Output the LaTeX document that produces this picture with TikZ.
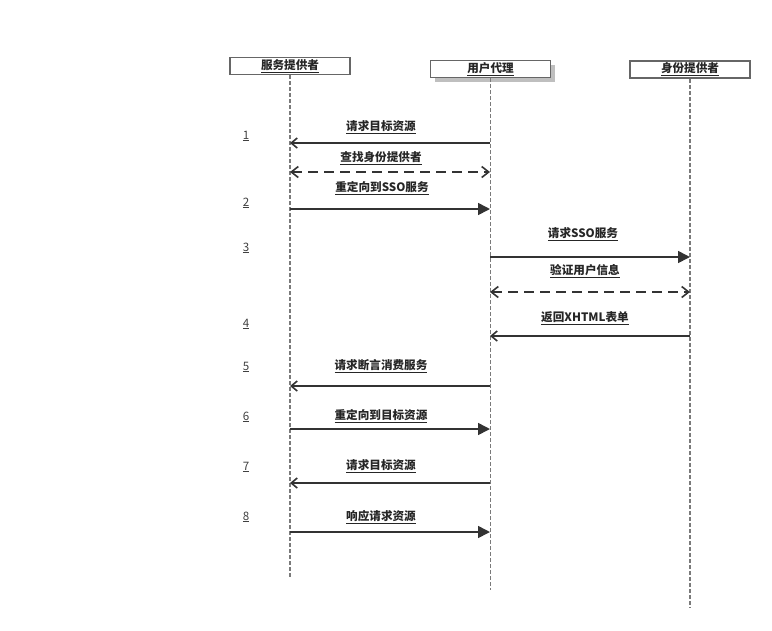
\documentclass[tikz,border=0pt]{standalone}
\usepackage{fontspec}
\setmainfont{Noto Sans CJK SC}
\usetikzlibrary{arrows.meta,shadows}
\definecolor{linegray}{HTML}{333333}
\definecolor{boxgray}{HTML}{666666}
\definecolor{lifegray}{HTML}{7A7A7A}
\newcommand{\ul}[1]{\underline{#1}}
\tikzstyle{actor}=[
	draw=boxgray,
	line width=1.8pt,
	fill=white,
	minimum width=120pt,
	minimum height=17pt,
	inner sep=0pt
]
\tikzstyle{lifeline}=[
	draw=lifegray,
	line width=1.3pt,
	dash pattern=on 4pt off 2pt
]
\tikzstyle{msg}=[
	draw=linegray,
	line width=1.6pt
]
\tikzstyle{call}=[
	msg,
	-{Triangle[length=12pt,width=12pt]}
]
\tikzstyle{back}=[
	msg,
	-{Straight Barb[length=6pt,width=10pt]}
]
\tikzstyle{ask}=[
	msg,
	dash pattern=on 10pt off 6pt,
	{Straight Barb[length=7pt,width=11pt]}-{Straight Barb[length=7pt,width=11pt]}
]
\tikzstyle{lab}=[
	inner sep=1pt,
	text=black!85,
	font=\fontsize{11.6}{13}\selectfont\bfseries
]
\tikzstyle{num}=[
	inner sep=1pt,
	text=black!75,
	font=\fontsize{11.6}{13}\selectfont
]
\begin{document}
\begin{tikzpicture}[x=1pt, y=-1pt]
\useasboundingbox (0,0) rectangle (772,630);

\node[actor, lab] (sprov) at (290,66) {\ul{服务提供者}};
\node[actor, lab, drop shadow={shadow xshift=4pt, shadow yshift=-4pt}] (uagent) at (490.5,69) {\ul{用户代理}};
\node[actor, lab] (iprov) at (690,69.5) {\ul{身份提供者}};

\coordinate (send) at (290,577);
\coordinate (uend) at (490.5,590);
\coordinate (iend) at (690,607);
\draw[lifeline] (sprov) -- (send);
\draw[lifeline] (uagent) -- (uend);
\draw[lifeline] (iprov) -- (iend);

\foreach \i/\y in {1/143, 2/172, 3/209, 4/257, 5/292, 6/336, 7/386, 8/429, 9/483, 10/532}{
    \coordinate (s\i) at (290,\y);
    \coordinate (u\i) at (490,\y);
    \coordinate (d\i) at (690,\y);
}

\foreach \n/\y in {1/136, 2/203, 3/248, 4/324, 5/367, 6/417, 7/467, 8/517}{
    \node[num] (n\n) at (246,\y) {\ul{\n}};
}

\foreach \i/\x/\y/\txt in {1/381/127/请求目标资源, 2/381/158/查找身份提供者, 3/382/188/重定向到SSO服务,
    4/583/234/请求SSO服务, 5/585/271/验证用户信息, 6/585/318/返回XHTML表单,
    7/381/366/请求断言消费服务, 8/381/416/重定向到目标资源, 9/381/466/请求目标资源, 10/381/517/响应请求资源}{
    \node[lab] (l\i) at (\x,\y) {\ul{\txt}};
}

\draw[back] (u1) -- (s1);
\draw[ask] (s2) -- (u2);
\draw[call] (s3) -- (u3);
\draw[call] (u4) -- (d4);
\draw[ask] (u5) -- (d5);
\draw[back] (d6) -- (u6);
\draw[back] (u7) -- (s7);
\draw[call] (s8) -- (u8);
\draw[back] (u9) -- (s9);
\draw[call] (s10) -- (u10);

\end{tikzpicture}
\end{document}
